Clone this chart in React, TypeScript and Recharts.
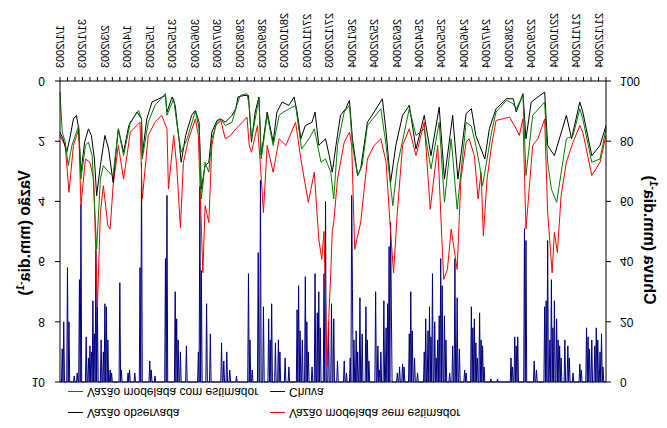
import { ComposedChart, Line, XAxis, YAxis, ReferenceLine, Legend } from "recharts";

// the reference picture is the chart mirrored top-to-bottom, so the chart is
// laid out normally and the whole wrapper is flipped with scaleY(-1)

const DAYS = 731; // 1/1/2003 .. 31/12/2004

const DATE_LABELS = [
  "1/1/2003", "31/1/2003", "2/3/2003", "1/4/2003", "1/5/2003", "31/5/2003",
  "30/6/2003", "30/7/2003", "29/8/2003", "28/9/2003", "28/10/2003", "27/11/2003",
  "27/12/2003", "26/1/2004", "25/2/2004", "26/3/2004", "25/4/2004", "25/5/2004",
  "24/6/2004", "24/7/2004", "23/8/2004", "22/9/2004", "22/10/2004", "21/11/2004",
  "21/12/2004",
];

const FLOW_TICKS = [0, 2, 4, 6, 8, 10];
const RAIN_TICKS = [0, 20, 40, 60, 80, 100];

// [day index, mm/dia] read at the turning points of each trace
const OBSERVED: [number, number][] = [
  [0, 1.7], [4, 1.92], [9, 2.37], [13, 1.92], [18, 1.26], [22, 1.14], [25, 1.59], [28, 3.03],
  [33, 2.03], [38, 1.59], [42, 1.81], [46, 2.59], [49, 3.81], [54, 2.81], [60, 1.81], [65, 2.26],
  [71, 3.37], [78, 1.59], [85, 2.37], [92, 1.48], [103, 1.03], [109, 1.26], [110, 2.48], [116, 1.26],
  [123, 0.7], [132, 0.59], [141, 0.48], [143, 1.03], [150, 0.53], [154, 0.81], [159, 1.92], [162, 2.7],
  [168, 1.81], [176, 1.14], [181, 0.98], [186, 1.37], [189, 3.59], [194, 2.81], [199, 2.7], [203, 1.7],
  [210, 1.31], [215, 1.26], [221, 1.37], [230, 1.14], [235, 0.92], [238, 0.53], [246, 0.48], [252, 0.48],
  [256, 2.03], [261, 1.03], [266, 0.53], [269, 2.48], [277, 1.03], [285, 2.03], [290, 1.03], [297, 0.7],
  [306, 0.81], [313, 0.53], [317, 1.03], [322, 1.92], [328, 1.48], [337, 1.37], [341, 1.03], [346, 2.14],
  [355, 1.92], [360, 2.48], [364, 3.03], [369, 2.14], [375, 1.14], [382, 0.92], [387, 0.64], [391, 1.92],
  [398, 3.14], [402, 2.92], [411, 1.37], [420, 1.03], [431, 0.59], [436, 1.7], [442, 3.37], [449, 2.14],
  [458, 1.14], [467, 0.81], [476, 2.26], [487, 1.14], [496, 2.48], [507, 0.87], [514, 3.26], [525, 1.14],
  [532, 3.26], [543, 1.08], [550, 0.92], [556, 1.81], [561, 2.14], [568, 2.59], [574, 1.59], [583, 0.92],
  [597, 0.59], [606, 0.59], [610, 1.03], [619, 0.42], [623, 1.92], [630, 0.7], [639, 0.53], [648, 0.37],
  [652, 2.14], [661, 2.48], [677, 1.14], [684, 1.92], [695, 0.7], [699, 1.03], [711, 2.48], [722, 2.14],
  [730, 1.48],
];

const MODEL_WITH_EST: [number, number][] = [
  [0, 0.37], [3, 1.7], [7, 2.03], [11, 2.81], [16, 2.14], [25, 1.48], [28, 3.26], [34, 2.14],
  [38, 2.03], [43, 2.48], [49, 5.59], [54, 3.26], [58, 2.81], [65, 3.03], [71, 3.14], [78, 1.59],
  [85, 2.48], [94, 1.37], [105, 0.98], [109, 1.26], [110, 2.59], [118, 1.37], [127, 0.81], [141, 0.42],
  [143, 1.14], [152, 0.59], [156, 1.37], [162, 2.37], [170, 1.92], [181, 1.0], [186, 1.59], [189, 3.92],
  [194, 2.7], [199, 3.03], [203, 1.92], [210, 1.37], [215, 1.26], [221, 1.48], [230, 1.37], [237, 0.76],
  [241, 0.48], [250, 0.42], [253, 0.81], [256, 1.92], [266, 0.59], [269, 2.59], [277, 1.14], [285, 2.14],
  [293, 1.14], [299, 1.03], [315, 0.81], [323, 2.26], [333, 1.92], [340, 1.59], [349, 2.7], [355, 2.59],
  [362, 3.03], [366, 3.92], [371, 2.14], [380, 1.03], [387, 0.81], [391, 2.14], [398, 3.14], [404, 2.81],
  [411, 1.48], [429, 0.92], [436, 2.14], [445, 4.14], [451, 2.81], [467, 0.92], [476, 1.81], [487, 1.59],
  [496, 2.92], [507, 1.37], [514, 4.03], [523, 1.92], [531, 4.26], [543, 1.37], [550, 1.5], [556, 2.14],
  [561, 2.81], [565, 3.48], [577, 1.7], [583, 1.03], [597, 0.64], [606, 0.76], [610, 0.92], [619, 0.48],
  [623, 3.14], [632, 1.14], [648, 0.7], [652, 2.7], [657, 3.59], [664, 4.03], [677, 1.92], [686, 1.81],
  [695, 0.92], [699, 1.26], [711, 2.7], [722, 2.59], [730, 1.59],
];

const MODEL_NO_EST: [number, number][] = [
  [0, 1.81], [7, 2.14], [12, 3.7], [18, 2.14], [25, 1.59], [28, 4.14], [34, 2.59], [40, 2.7],
  [45, 3.26], [50, 7.48], [54, 4.37], [58, 3.48], [64, 4.81], [67, 4.92], [71, 3.48], [78, 2.14],
  [85, 3.26], [94, 1.7], [107, 1.37], [110, 3.92], [118, 1.81], [127, 1.37], [136, 1.14], [143, 1.59],
  [145, 3.59], [152, 1.81], [156, 2.81], [161, 4.87], [165, 2.7], [172, 1.92], [181, 1.26], [185, 1.81],
  [191, 6.37], [194, 4.14], [199, 4.7], [203, 2.14], [208, 1.48], [215, 1.31], [221, 1.92], [228, 1.81],
  [235, 1.59], [244, 1.37], [250, 1.2], [253, 2.14], [256, 2.37], [264, 1.48], [268, 2.81], [272, 4.37],
  [277, 2.14], [285, 3.03], [293, 1.92], [302, 2.14], [315, 1.37], [322, 2.59], [332, 4.03], [340, 3.03],
  [346, 5.26], [350, 5.92], [353, 5.0], [357, 9.5], [360, 7.5], [362, 6.4], [364, 5.0], [366, 4.7],
  [371, 3.26], [380, 2.03], [387, 1.7], [390, 2.14], [394, 5.59], [402, 4.7], [411, 2.59], [420, 2.14],
  [429, 1.92], [436, 2.7], [442, 5.03], [446, 6.37], [451, 4.37], [458, 2.14], [467, 1.59], [476, 2.48],
  [487, 1.37], [495, 4.26], [505, 2.14], [513, 6.59], [518, 6.26], [523, 4.92], [531, 6.26], [536, 3.26],
  [543, 2.03], [547, 1.92], [554, 2.48], [559, 3.92], [563, 3.03], [566, 5.14], [571, 3.26], [577, 2.14],
  [583, 1.31], [601, 1.2], [610, 1.59], [614, 1.81], [619, 1.26], [623, 4.92], [632, 2.14], [639, 1.92],
  [648, 1.26], [652, 4.37], [658, 6.37], [661, 5.03], [665, 5.7], [670, 3.81], [677, 2.7], [686, 2.03],
  [695, 1.48], [699, 1.7], [711, 3.14], [722, 2.7], [730, 1.81],
];

// [day index, mm] rain days; every other day is 0
const RAIN: [number, number][] = [
  [3, 11], [5, 20], [10, 38], [12, 20], [19, 2], [23, 3], [26, 34], [28, 59], [35, 15], [38, 8],
  [40, 12], [42, 10], [44, 27], [46, 16], [48, 44], [50, 25], [55, 14], [58, 10], [60, 26], [62, 25],
  [64, 14], [67, 4], [69, 3], [80, 33], [82, 4], [91, 3], [93, 4], [100, 3], [107, 38], [109, 73],
  [120, 7], [122, 4], [127, 2], [141, 41], [143, 62], [154, 30], [156, 21], [158, 14], [161, 10], [169, 12],
  [185, 10], [187, 65], [189, 37], [196, 26], [201, 16], [216, 13], [219, 7], [223, 10], [227, 4], [236, 2],
  [252, 36], [254, 14], [257, 4], [265, 43], [268, 67], [272, 25], [279, 21], [281, 14], [283, 26], [288, 13],
  [292, 14], [294, 10], [301, 8], [306, 5], [317, 24], [319, 32], [321, 17], [324, 14], [328, 35], [330, 20],
  [332, 10], [337, 5], [341, 36], [344, 23], [346, 30], [348, 18], [353, 36], [355, 60], [359, 20], [363, 26],
  [366, 21], [371, 7], [380, 7], [383, 3], [388, 8], [390, 62], [391, 31], [393, 14], [396, 17], [398, 10],
  [401, 28], [404, 16], [409, 25], [411, 14], [413, 7], [422, 30], [425, 12], [427, 4], [429, 10], [433, 27],
  [436, 18], [438, 26], [440, 45], [442, 53], [443, 25], [451, 3], [454, 5], [458, 6], [460, 5], [467, 16],
  [469, 30], [471, 17], [474, 8], [478, 3], [487, 10], [489, 21], [492, 17], [494, 25], [496, 15], [498, 36],
  [501, 20], [503, 8], [505, 14], [507, 22], [509, 41], [511, 32], [514, 22], [516, 14], [521, 3], [525, 12],
  [528, 41], [531, 28], [534, 11], [541, 4], [543, 3], [550, 25], [552, 18], [554, 21], [556, 13], [558, 8],
  [561, 23], [563, 14], [565, 12], [567, 5], [576, 1], [585, 1], [603, 8], [605, 5], [608, 15], [610, 12],
  [612, 15], [621, 51], [623, 47], [634, 7], [637, 4], [648, 25], [650, 27], [652, 47], [655, 14], [657, 34],
  [659, 18], [661, 27], [664, 21], [666, 14], [668, 12], [670, 8], [675, 14], [679, 12], [681, 8], [686, 3],
  [695, 6], [697, 4], [704, 18], [706, 15], [708, 11], [711, 14], [715, 12], [717, 18], [719, 14], [722, 10],
  [724, 16], [726, 5],
];

const FONT = "'Liberation Sans', Arial, sans-serif";
const BLACK = "#000000";
const RED = "#ff0000";
const GREEN = "#008000";
const NAVY = "#000080";

const LEGEND_ITEMS = [
  { label: "Vazão observada", color: BLACK },
  { label: "Vazão modelada sem estimador", color: RED },
  { label: "Vazão modelada com estimador", color: GREEN },
  { label: "Chuva", color: NAVY },
];

type Row = { day: number; obs: number | null; sem: number | null; com: number | null; chuva: number };

function buildRows(): Row[] {
  const rows: Row[] = Array.from({ length: DAYS }, (_, day) => ({
    day, obs: null, sem: null, com: null, chuva: 0,
  }));
  for (const [d, v] of OBSERVED) rows[d].obs = v;
  for (const [d, v] of MODEL_NO_EST) rows[d].sem = v;
  for (const [d, v] of MODEL_WITH_EST) rows[d].com = v;
  for (const [d, v] of RAIN) rows[d].chuva = v;
  return rows;
}

function DateTick(props: any) {
  const { x, y, payload } = props;
  const d = Number(payload.value);
  if (d % 30 !== 0) return <g />;
  return (
    <text
      x={x}
      y={y}
      transform={`rotate(-90 ${x} ${y})`}
      textAnchor="end"
      dominantBaseline="central"
      fontSize={11}
      fontFamily={FONT}
      fill="#000"
    >
      {DATE_LABELS[d / 30]}
    </text>
  );
}

// axis titles as html, centred on (cx, cy) and turned by deg
function AxisTitle({ cx, cy, deg, text }: { cx: number; cy: number; deg: number; text: string }) {
  return (
    <div
      style={{
        position: "absolute",
        left: cx,
        top: cy,
        transform: `translate(-50%, -50%) rotate(${deg}deg)`,
        whiteSpace: "nowrap",
        fontFamily: FONT,
        fontSize: 16,
        fontWeight: "bold",
        lineHeight: "18px",
        color: "#000",
      }}
    >
      {text} (mm.dia<sup style={{ fontSize: 10, lineHeight: 0 }}>-1</sup>)
    </div>
  );
}

function ChartLegend() {
  return (
    <div style={{ position: "relative", width: 667, height: 50, fontFamily: FONT, fontSize: 12, color: "#000" }}>
      {LEGEND_ITEMS.map((item, i) => (
        <div
          key={item.label}
          style={{
            position: "absolute",
            left: i % 2 ? 270 : 68,
            top: i < 2 ? 8 : 29,
            height: 14,
            display: "flex",
            alignItems: "center",
            whiteSpace: "nowrap",
          }}
        >
          <span style={{ width: 15, height: 0, borderTop: `1px solid ${item.color}`, marginRight: 4 }} />
          <span>{item.label}</span>
        </div>
      ))}
    </div>
  );
}

export default function App() {
  const rows = buildRows();
  const tick = { fontSize: 12, fill: "#000", fontFamily: FONT };

  return (
    <div
      style={{
        position: "absolute",
        left: 0,
        top: 0,
        width: 667,
        height: 428,
        background: "#fff",
        transform: "scaleY(-1)",
      }}
    >
      <ComposedChart width={667} height={428} data={rows} margin={{ top: 46, right: 0, bottom: 0, left: 0 }}>
        <XAxis
          dataKey="day"
          interval={9}
          height={81}
          tickSize={4}
          tickMargin={9}
          tick={<DateTick />}
          axisLine={{ stroke: "#000" }}
          tickLine={{ stroke: "#000" }}
        />
        <YAxis
          yAxisId="left"
          domain={[0, 10]}
          ticks={FLOW_TICKS}
          width={60}
          tickSize={5}
          tickMargin={10}
          tick={tick}
          axisLine={{ stroke: "#000" }}
          tickLine={{ stroke: "#000" }}
        />
        <YAxis
          yAxisId="right"
          orientation="right"
          reversed
          domain={[0, 100]}
          ticks={RAIN_TICKS}
          width={61}
          tickSize={5}
          tickMargin={9}
          tick={tick}
          axisLine={{ stroke: "#000" }}
          tickLine={{ stroke: "#000" }}
        />
        <ReferenceLine yAxisId="left" y={10} stroke="#000" />
        <Legend
          layout="horizontal"
          verticalAlign="middle"
          align="center"
          wrapperStyle={{ top: 0, left: 0, width: 667, height: 50 }}
          content={() => <ChartLegend />}
        />
        <Line yAxisId="right" dataKey="chuva" name="Chuva" type="linear" stroke={NAVY} strokeWidth={1} dot={false} isAnimationActive={false} />
        <Line yAxisId="left" dataKey="sem" name="Vazão modelada sem estimador" type="linear" stroke={RED} strokeWidth={1} dot={false} connectNulls isAnimationActive={false} />
        <Line yAxisId="left" dataKey="obs" name="Vazão observada" type="linear" stroke={BLACK} strokeWidth={1} dot={false} connectNulls isAnimationActive={false} />
        <Line yAxisId="left" dataKey="com" name="Vazão modelada com estimador" type="linear" stroke={GREEN} strokeWidth={1} dot={false} connectNulls isAnimationActive={false} />
      </ComposedChart>
      <AxisTitle cx={25} cy={195} deg={-90} text="Vazão" />
      <AxisTitle cx={649} cy={188} deg={90} text="Chuva" />
    </div>
  );
}
